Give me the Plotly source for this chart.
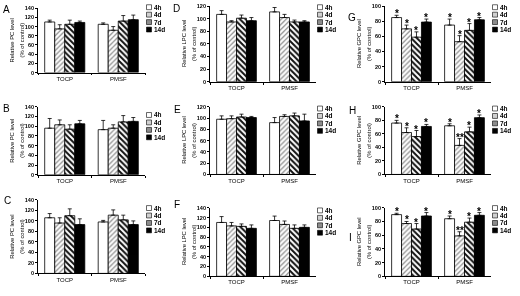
import plotly.graph_objects as go

W, H = 520, 296
FONT = "Liberation Sans, Arial, sans-serif"

categories = ["TOCP", "PMSF"]
series = ["4h", "4d", "7d", "14d"]

# ---- Panel A: PC ----
A_TOCP = [110, 95, 105, 109]
A_TOCP_err = [4, 9, 9, 3]
A_PMSF = [105, 92, 112, 115]
A_PMSF_err = [3, 8, 12, 10]
# ---- Panel B: PC ----
B_TOCP = [96, 103, 94, 105]
B_TOCP_err = [20, 10, 9, 7]
B_PMSF = [93, 96, 109, 110]
B_PMSF_err = [19, 7, 13, 8]
# ---- Panel C: PC ----
C_TOCP = [106, 96, 110, 93]
C_TOCP_err = [8, 10, 13, 11]
C_PMSF = [98, 111, 102, 93]
C_PMSF_err = [3, 10, 9, 7]
# ---- Panel D: LPC ----
D_TOCP = [107, 95, 101, 97]
D_TOCP_err = [6, 2, 5, 5]
D_PMSF = [111, 102, 95, 95]
D_PMSF_err = [7, 5, 3, 2]
# ---- Panel E: LPC ----
E_TOCP = [98, 99, 102, 101]
E_TOCP_err = [6, 5, 5, 2]
E_PMSF = [92, 103, 104, 95]
E_PMSF_err = [9, 3, 5, 12]
# ---- Panel F: LPC ----
F_TOCP = [110, 103, 102, 98]
F_TOCP_err = [12, 7, 5, 7]
F_PMSF = [114, 106, 98, 100]
F_PMSF_err = [9, 7, 7, 5]
# ---- Panel G: GPC ----
G_TOCP = [85, 70, 59, 79]
G_TOCP_err = [3, 5, 7, 4]
G_PMSF = [75, 53, 68, 82]
G_PMSF_err = [8, 8, 9, 3]
G_TOCP_sig = ["*", "*", "*", "*"]
G_PMSF_sig = ["*", "*", "*", "*"]
# ---- Panel H: GPC ----
H_TOCP = [76, 62, 56, 71]
H_TOCP_err = [4, 7, 9, 3]
H_PMSF = [72, 43, 63, 84]
H_PMSF_err = [3, 10, 7, 4]
H_TOCP_sig = ["*", "*", "*", "*"]
H_PMSF_sig = ["*", "**", "*", "*"]
# ---- Panel I: GPC ----
I_TOCP = [90, 77, 69, 88]
I_TOCP_err = [2, 3, 8, 5]
I_PMSF = [84, 59, 79, 89]
I_PMSF_err = [4, 6, 6, 4]
I_TOCP_sig = ["*", "*", "*", "*"]
I_PMSF_sig = ["*", "**", "*", "*"]

titles = {"PC": "Relative PC level", "LPC": "Relative LPC level", "GPC": "Relative GPC level"}
sub_title = "(% of control)"

# panel table built from the arrays above
panels = [
    dict(letter="A", kind="PC", ymax=140, T=A_TOCP, Te=A_TOCP_err, P=A_PMSF, Pe=A_PMSF_err, Ts=None, Ps=None),
    dict(letter="D", kind="LPC", ymax=120, T=D_TOCP, Te=D_TOCP_err, P=D_PMSF, Pe=D_PMSF_err, Ts=None, Ps=None),
    dict(letter="G", kind="GPC", ymax=100, T=G_TOCP, Te=G_TOCP_err, P=G_PMSF, Pe=G_PMSF_err, Ts=G_TOCP_sig, Ps=G_PMSF_sig),
    dict(letter="B", kind="PC", ymax=140, T=B_TOCP, Te=B_TOCP_err, P=B_PMSF, Pe=B_PMSF_err, Ts=None, Ps=None),
    dict(letter="E", kind="LPC", ymax=120, T=E_TOCP, Te=E_TOCP_err, P=E_PMSF, Pe=E_PMSF_err, Ts=None, Ps=None),
    dict(letter="H", kind="GPC", ymax=100, T=H_TOCP, Te=H_TOCP_err, P=H_PMSF, Pe=H_PMSF_err, Ts=H_TOCP_sig, Ps=H_PMSF_sig),
    dict(letter="C", kind="PC", ymax=140, T=C_TOCP, Te=C_TOCP_err, P=C_PMSF, Pe=C_PMSF_err, Ts=None, Ps=None),
    dict(letter="F", kind="LPC", ymax=140, T=F_TOCP, Te=F_TOCP_err, P=F_PMSF, Pe=F_PMSF_err, Ts=None, Ps=None),
    dict(letter="I", kind="GPC", ymax=100, T=I_TOCP, Te=I_TOCP_err, P=I_PMSF, Pe=I_PMSF_err, Ts=I_TOCP_sig, Ps=I_PMSF_sig),
]

# ---- layout geometry (pixels) ----
COL_X = [(38, 145), (210, 316), (385, 491)]
PANEL_Y = [(5.3, 71), (3.3, 80.3), (3.3, 80.3),
           (106, 175.3), (106, 175), (106, 175),
           (201, 276), (209, 279), (209, 279)]
LETTER_POS = [(1, 6.5), (171, 6), (346, 15),
              (1, 107.5), (172, 109), (347, 110),
              (2, 201.5), (172, 206), (347, 239)]
LEGEND_Y0 = [4.3, 4.3, 4.3, 114.3, 107.7, 107.7, 209.3, 211.7, 209.3]
LEGEND_DY = 7.6
BARGAP = 0.25

styles = {
    "4h": dict(color="white", pattern=dict(shape="")),
    "4d": dict(color="white", pattern=dict(shape="/", fgcolor="#8a8a8a", bgcolor="white", size=3.5, solidity=0.35, fillmode="replace")),
    "7d": dict(color="white", pattern=dict(shape="\\", fgcolor="#111111", bgcolor="white", size=4, solidity=0.5, fillmode="replace")),
    "14d": dict(color="black", pattern=dict(shape="")),
}
swatch_fill = {"4h": "white", "4d": "#d0d0d0", "7d": "#8c8c8c", "14d": "black"}


def px_x(p):
    return p / W


def px_y(p):
    return 1 - p / H


fig = go.Figure()
layout = dict(width=W, height=H, margin=dict(l=0, r=0, t=0, b=0),
              paper_bgcolor="white", plot_bgcolor="white",
              barmode="group", bargap=BARGAP, bargroupgap=0,
              showlegend=False, font=dict(family=FONT, color="black"))
annotations = []
shapes = []
slot = (1 - BARGAP) / len(series)

for i, p in enumerate(panels):
    n = i + 1
    xa = "x" if n == 1 else f"x{n}"
    ya = "y" if n == 1 else f"y{n}"
    col = i % 3
    x0, x1 = COL_X[col]
    yt, yb = PANEL_Y[i]
    for k, s in enumerate(series):
        vals = [p["T"][k], p["P"][k]]
        errs = [p["Te"][k], p["Pe"][k]]
        st = styles[s]
        fig.add_trace(go.Bar(
            x=categories, y=vals, xaxis=xa, yaxis=ya, offsetgroup=s, name=s,
            marker=dict(color=st["color"], line=dict(color="black", width=0.8), pattern=st["pattern"]),
            error_y=dict(type="data", array=errs, arrayminus=[0, 0], symmetric=False,
                         color="black", thickness=0.8, width=2),
            hoverinfo="skip",
        ))
        if p["Ts"] is not None:
            sig = [p["Ts"][k], p["Ps"][k]]
            for ci in range(len(categories)):
                annotations.append(dict(
                    text=f"<b>{sig[ci]}</b>", xref=xa, yref=ya,
                    x=ci + (k - (len(series) - 1) / 2) * slot, y=vals[ci] + errs[ci],
                    showarrow=False, xanchor="center", yanchor="middle", yshift=1.5,
                    font=dict(size=10, family=FONT, color="black")))
    layout["xaxis" if n == 1 else f"xaxis{n}"] = dict(
        domain=[px_x(x0), px_x(x1)], anchor=ya, type="category", range=[-0.5, 1.5],
        showline=True, linecolor="black", linewidth=0.8, ticks="outside", tickson="boundaries",
        ticklen=2, tickwidth=0.8, tickcolor="black", showgrid=False,
        tickfont=dict(size=6, family=FONT, color="black"),
    )
    layout["yaxis" if n == 1 else f"yaxis{n}"] = dict(
        domain=[px_y(yb), px_y(yt)], anchor=xa, range=[0, p["ymax"]], dtick=20,
        showline=True, linecolor="black", linewidth=0.8, ticks="outside", ticklen=2,
        tickwidth=0.8, tickcolor="black", showgrid=False, zeroline=False,
        tickfont=dict(size=5.5, family=FONT, color="black", weight="bold"),
    )
    ymid = (yt + yb) / 2
    annotations.append(dict(text=titles[p["kind"]], xref="paper", yref="paper",
                            x=px_x(x0 - 26), y=px_y(ymid), textangle=-90, showarrow=False,
                            xanchor="center", yanchor="middle", font=dict(size=5.8, family=FONT)))
    annotations.append(dict(text=sub_title, xref="paper", yref="paper",
                            x=px_x(x0 - 16), y=px_y(ymid), textangle=-90, showarrow=False,
                            xanchor="center", yanchor="middle", font=dict(size=5.8, family=FONT)))
    lx, ly = LETTER_POS[i]
    annotations.append(dict(text=p["letter"], xref="paper", yref="paper", x=px_x(lx), y=px_y(ly),
                            showarrow=False, xanchor="left", yanchor="middle",
                            font=dict(size=10, family=FONT)))
    for k, s in enumerate(series):
        cy = LEGEND_Y0[i] + k * LEGEND_DY
        shapes.append(dict(type="rect", xref="paper", yref="paper",
                           x0=px_x(x1 + 1.5), x1=px_x(x1 + 6.5), y0=px_y(cy + 2.5), y1=px_y(cy - 2.5),
                           fillcolor=swatch_fill[s], line=dict(color="black", width=0.6)))
        annotations.append(dict(text=f"<b>{s}</b>", xref="paper", yref="paper",
                                x=px_x(x1 + 7), y=px_y(cy), showarrow=False,
                                xanchor="left", yanchor="middle", font=dict(size=6.5, family=FONT)))

layout["annotations"] = annotations
layout["shapes"] = shapes
fig.update_layout(**layout)
fig.write_html(
    "out.html", config={"displayModeBar": False},
    post_script=("document.body.style.margin='0';document.body.style.padding='0';"
                 "var g=document.querySelector('.plotly-graph-div');"
                 "if(g){g.style.willChange='transform';g.style.transform='translateZ(0)';g.style.opacity='0.999';}"))
